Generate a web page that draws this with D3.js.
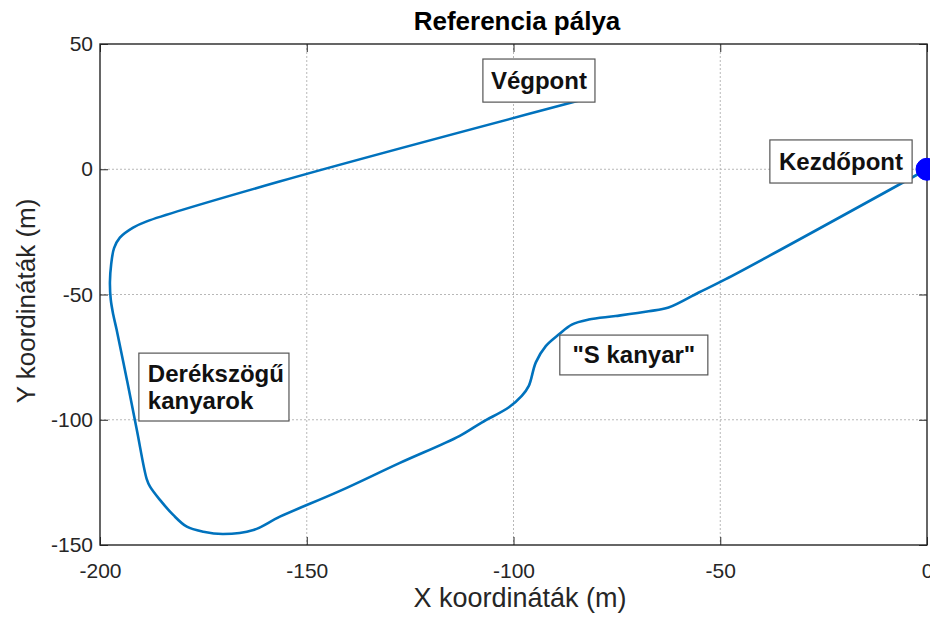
<!DOCTYPE html>
<html>
<head>
<meta charset="utf-8">
<script src="https://cdn.jsdelivr.net/npm/d3@7"></script>
<style>
  html, body { margin: 0; padding: 0; background: #fff; }
  svg { display: block; }
  text { font-family: "Liberation Sans", Arial, sans-serif; }
</style>
</head>
<body>
<svg id="chart" width="930" height="618"></svg>
<script>
// ---- data ----
const pathX = [0, -48.8, -55.2, -62.5, -67.3, -75.3, -81.8, -85.9, -89.0, -92.2, -94.6, -96.3, -98.0,
  -101.1, -107.6, -113.1, -127.6, -142.1, -156.5, -162.9, -170.2, -175.0, -179.0, -182.3, -185.5, -187.9,
  -188.7, -191.1, -193.5, -196.0, -196.8, -197.4, -197.6, -197.3, -196.6, -195.2, -192.0, -188.7, -156.6, -82.5];
const pathY = [0, -44.0, -49.2, -55.2, -56.7, -58.6, -60.0, -62.0, -65.9, -70.6, -77.1, -86.5, -90.5,
  -95.0, -101.0, -106.5, -117.3, -128.5, -138.7, -144.0, -145.6, -144.7, -142.7, -138.0, -132.0, -126.7,
  -123.7, -104.0, -84.0, -63.9, -58.0, -52.0, -45.0, -38.0, -31.5, -27.3, -23.3, -20.8, -4.9, 28.1];
const startPoint = [0, 0];
const xTicks = [-200, -150, -100, -50, 0];
const yTicks = [-150, -100, -50, 0, 50];
const titleText = "Referencia pálya";
const xLabel = "X koordináták (m)";
const yLabel = "Y koordináták (m)";
// annotation boxes (data coordinates of box corners)
const annLines = [["Végpont"], ["Kezdőpont"], ["\"S kanyar\""], ["Derékszögű", "kanyarok"]];
const annX0 = [-107.4, -38.0, -88.8, -190.6];
const annX1 = [-80.3, -3.6, -53.0, -154.3];
const annY0 = [44.0, 11.7, -66.2, -73.4];
const annY1 = [26.8, -5.5, -82.1, -100.5];
const annAlign = ["middle", "middle", "middle", "start"];

// ---- layout ----
const svg = d3.select("#chart");
const L = 100, R = 927, T = 44, B = 545;
const x = d3.scaleLinear().domain([-200, 0]).range([L, R]);
const y = d3.scaleLinear().domain([-150, 50]).range([B, T]);
const axisColor = "#262626";

// grid
const grid = svg.append("g");
grid.selectAll(".gx").data(xTicks.filter(d => d > -200 && d < 0)).join("line")
  .attr("x1", d => x(d)).attr("x2", d => x(d)).attr("y1", T).attr("y2", B)
  .attr("stroke", "#b8b8b8").attr("stroke-width", 1).attr("stroke-dasharray", "2,2");
grid.selectAll(".gy").data(yTicks.filter(d => d > -150 && d < 50)).join("line")
  .attr("x1", L).attr("x2", R).attr("y1", d => y(d)).attr("y2", d => y(d))
  .attr("stroke", "#b8b8b8").attr("stroke-width", 1).attr("stroke-dasharray", "2,2");

// axes
function styleAxis(g, showLabels) {
  g.select(".domain").remove();
  g.selectAll(".tick line").attr("stroke", axisColor).attr("stroke-width", 1);
  g.selectAll(".tick text").attr("fill", axisColor).style("font-size", "21px")
    .style("font-family", "'Liberation Sans', Arial, sans-serif");
  if (!showLabels) g.selectAll(".tick text").remove();
}
svg.append("g").attr("transform", `translate(0,${B})`)
  .call(d3.axisBottom(x).tickValues(xTicks).tickSize(-8).tickPadding(18).tickFormat(d => String(d)))
  .call(g => styleAxis(g, true));
svg.append("g").attr("transform", `translate(0,${T})`)
  .call(d3.axisTop(x).tickValues(xTicks).tickSize(-8))
  .call(g => styleAxis(g, false));
svg.append("g").attr("transform", `translate(${L},0)`)
  .call(d3.axisLeft(y).tickValues(yTicks).tickSize(-8).tickPadding(7).tickFormat(d => String(d)))
  .call(g => styleAxis(g, true));
svg.append("g").attr("transform", `translate(${R},0)`)
  .call(d3.axisRight(y).tickValues(yTicks).tickSize(-8))
  .call(g => styleAxis(g, false));

// box
svg.append("rect").attr("x", L).attr("y", T).attr("width", R - L).attr("height", B - T)
  .attr("fill", "none").attr("stroke", axisColor).attr("stroke-width", 1.4);

// path
const pts = pathX.map((d, i) => [d, pathY[i]]);
const line = d3.line().x(d => x(d[0])).y(d => y(d[1])).curve(d3.curveCatmullRom.alpha(0.5));
svg.append("path").datum(pts).attr("d", line)
  .attr("fill", "none").attr("stroke", "#0072BD").attr("stroke-width", 2.6)
  .attr("stroke-linejoin", "round").attr("stroke-linecap", "round");

// start point
svg.append("circle").attr("cx", x(startPoint[0])).attr("cy", y(startPoint[1])).attr("r", 11)
  .attr("fill", "#0000FF").attr("stroke", "#0000FF");

// annotations
annLines.forEach((lines, i) => {
  const bx0 = x(annX0[i]), bx1 = x(annX1[i]), by0 = y(annY0[i]), by1 = y(annY1[i]);
  const g = svg.append("g");
  g.append("rect").attr("x", bx0).attr("y", by0).attr("width", bx1 - bx0).attr("height", by1 - by0)
    .attr("fill", "#fff").attr("stroke", "#555").attr("stroke-width", 1.2);
  const lh = 27;
  const cy = (by0 + by1) / 2;
  const firstBase = cy - (lines.length - 1) * lh / 2 + 8.5;
  g.selectAll("text").data(lines).join("text")
    .attr("x", annAlign[i] === "start" ? bx0 + 9 : (bx0 + bx1) / 2)
    .attr("y", (d, j) => firstBase + j * lh)
    .attr("text-anchor", annAlign[i])
    .style("font-size", "24px").style("font-weight", "bold").attr("fill", "#111")
    .text(d => d);
});

// title & labels
svg.append("text").attr("x", 517).attr("y", 30).attr("text-anchor", "middle")
  .style("font-size", "26px").style("font-weight", "bold").attr("fill", "#000").text(titleText);
svg.append("text").attr("x", 520).attr("y", 607).attr("text-anchor", "middle")
  .style("font-size", "27px").attr("fill", axisColor).text(xLabel);
svg.append("text").attr("transform", "translate(35,301) rotate(-90)").attr("text-anchor", "middle")
  .style("font-size", "26px").attr("fill", axisColor).text(yLabel);
</script>
</body>
</html>
